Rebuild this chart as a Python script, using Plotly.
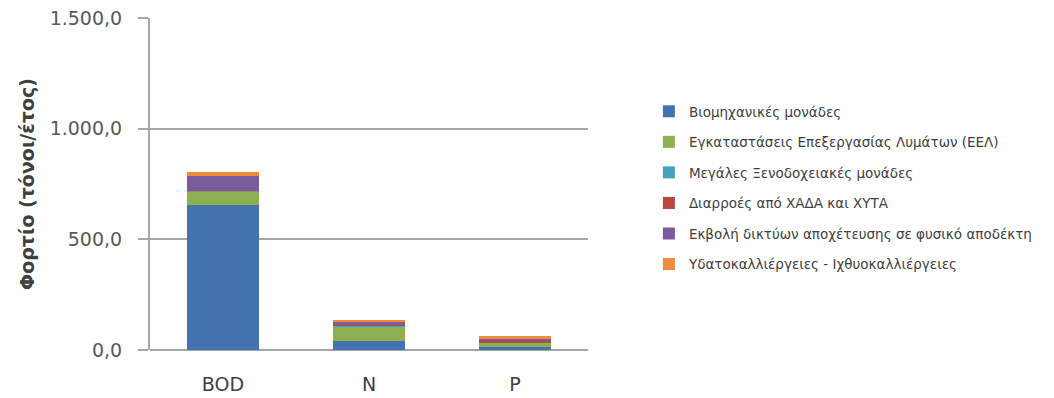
import plotly.graph_objects as go

categories = ["BOD", "N", "P"]

series_names = [
    "Βιομηχανικές μονάδες",
    "Εγκαταστάσεις Επεξεργασίας Λυμάτων (ΕΕΛ)",
    "Μεγάλες Ξενοδοχειακές μονάδες",
    "Διαρροές από ΧΑΔΑ και ΧΥΤΑ",
    "Εκβολή δικτύων αποχέτευσης σε φυσικό αποδέκτη",
    "Υδατοκαλλιέργειες - Ιχθυοκαλλιέργειες",
]

industrial = [655, 40, 12]
wwtp = [63, 68, 20]
hotels = [2, 2, 3]
landfills = [3, 3, 8]
sewer = [62, 16, 8]
aquaculture = [17, 8, 12]

series_values = [industrial, wwtp, hotels, landfills, sewer, aquaculture]
colors = ["#4472b0", "#8fb04f", "#42a3bd", "#bb4542", "#7a5c9c", "#ef8c3c"]

y_ticks = [0, 500, 1000, 1500]

fig = go.Figure()
for i, (name, vals, col) in enumerate(zip(series_names, series_values, colors)):
    fig.add_trace(go.Bar(
        x=categories, y=vals, name=name, marker_color=col,
        marker_line_width=0, legendgroup=f"g{i}", width=0.49,
    ))

fig.update_layout(
    barmode="stack",
    width=1054, height=398,
    margin=dict(l=150, r=466, t=18, b=48),
    paper_bgcolor="white", plot_bgcolor="white",
    separators=",.",
    font=dict(family="DejaVu Sans, sans-serif", color="#595959"),
    showlegend=True,
    legend=dict(
        x=1.139, y=0.765, xanchor="left", yanchor="top",
        traceorder="grouped", tracegroupgap=10,
        font=dict(size=13.5, color="#404040"),
        itemwidth=30,
    ),
    xaxis=dict(
        showline=False, ticks="", tickfont=dict(size=19, color="#404040"),
        showgrid=False, zeroline=False, ticklabelstandoff=21,
        automargin=False,
    ),
    yaxis=dict(
        range=[0, 1500], tickvals=y_ticks, tickformat=",.1f",
        showgrid=True, gridcolor="#a6a6a6", gridwidth=2,
        showline=True, linecolor="#a6a6a6", linewidth=2,
        ticks="outside", ticklen=10, tickcolor="#a6a6a6", tickwidth=2,
        tickfont=dict(size=19, color="#595959"), ticklabelstandoff=12,
        zeroline=True, zerolinecolor="#a6a6a6", zerolinewidth=2,
        automargin=False,
        title=dict(text="<b>Φορτίο (τόνοι/έτος)</b>",
                   font=dict(size=19, color="#404040"), standoff=10),
    ),
)

fig.write_html("out.html")
